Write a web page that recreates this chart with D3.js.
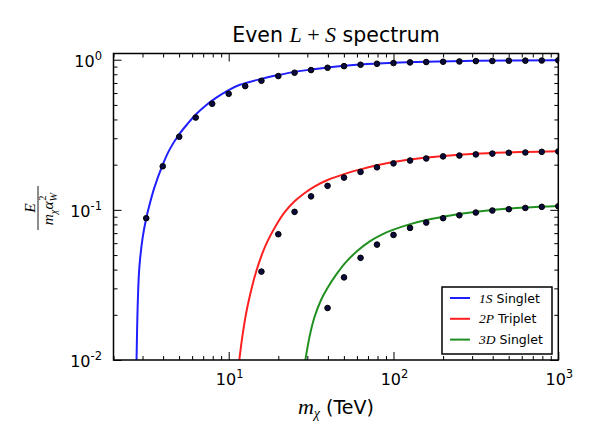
<!DOCTYPE html>
<html><head><meta charset="utf-8">
<script src="https://cdn.jsdelivr.net/npm/d3@7"></script>
<style>body{margin:0;background:#fff}svg{display:block}</style>
</head><body>
<svg id="c" width="600" height="448"></svg>
<script>
// ---- data ----
const blueCurveM = [2.76, 2.81, 2.87, 3.01, 3.16, 3.30, 3.54, 3.98, 4.36, 4.97, 5.64, 6.34, 7.29, 8.37, 10, 11.6, 15.8, 20, 25.1, 31.6, 39.8, 63.1, 100, 158, 316, 1000];
const blueCurveE = [0.01, 0.0248, 0.0414, 0.066, 0.088, 0.107, 0.1406, 0.200, 0.250, 0.315, 0.375, 0.433, 0.497, 0.557, 0.628, 0.678, 0.745, 0.790, 0.830, 0.861, 0.888, 0.930, 0.955, 0.970, 0.985, 0.993];
const redCurveM = [11.6, 12.0, 12.5, 13.0, 14.0, 14.7, 16.0, 17.3, 19.4, 21.8, 25.1, 28.8, 33.1, 39.8, 50.1, 63.1, 79.4, 100, 158, 251, 398, 631, 1000];
const redCurveE = [0.01, 0.0134, 0.018, 0.0227, 0.0322, 0.039, 0.0513, 0.0626, 0.079, 0.0962, 0.114, 0.129, 0.143, 0.158, 0.173, 0.186, 0.198, 0.208, 0.223, 0.233, 0.2395, 0.243, 0.2455];
const greenCurveM = [29.2, 30.9, 33.1, 36.4, 40, 44.9, 51.6, 60.7, 71.4, 86.1, 100, 125, 166, 251, 398, 631, 1000];
const greenCurveE = [0.01, 0.0142, 0.0192, 0.0252, 0.0305, 0.037, 0.045, 0.0536, 0.0615, 0.069, 0.0738, 0.080, 0.0865, 0.094, 0.0998, 0.1035, 0.106];

const blueDotM = [3.16, 3.98, 5.01, 6.31, 7.94, 10, 12.6, 15.8, 20.0, 25.1, 31.6, 39.8, 50.1, 63.1, 79.4, 100, 126, 158, 200, 251, 316, 398, 501, 631, 794, 1000];
const blueDotE = [0.088, 0.195, 0.307, 0.412, 0.509, 0.593, 0.667, 0.724, 0.778, 0.819, 0.853, 0.884, 0.906, 0.926, 0.94, 0.95, 0.96, 0.965, 0.97, 0.974, 0.979, 0.981, 0.985, 0.986, 0.988, 0.99];
const redDotM = [15.8, 20.0, 25.1, 31.6, 39.8, 50.1, 63.1, 79.4, 100, 126, 158, 200, 251, 316, 398, 501, 631, 794, 1000];
const redDotE = [0.0388, 0.0688, 0.097, 0.123, 0.1445, 0.164, 0.179, 0.192, 0.204, 0.213, 0.220, 0.227, 0.230, 0.234, 0.237, 0.240, 0.241, 0.2435, 0.245];
const greenDotM = [39.8, 50.1, 63.1, 79.4, 100, 126, 158, 200, 251, 316, 398, 501, 631, 794, 1000];
const greenDotE = [0.0222, 0.0355, 0.0479, 0.0587, 0.0681, 0.0758, 0.0823, 0.088, 0.092, 0.096, 0.099, 0.101, 0.103, 0.1047, 0.1057];

const xTickValues = [10, 100, 1000];
const xTickExps = ["1", "2", "3"];
const yTickValues = [0.01, 0.1, 1];
const yTickExps = ["-2", "-1", "0"];
const legendStates = ["1S", "2P", "3D"];
const legendTypes = ["Singlet", "Triplet", "Singlet"];
const colors = ["#1f1fff", "#ff2020", "#209020"];

// ---- layout ----
const L = 113.5, R = 558.3, T = 53.5, B = 360;
const svg = d3.select("#c");
const x = d3.scaleLog().domain([2, 1000]).range([L, R]);
const y = d3.scaleLog().domain([0.01, 1.1]).range([B, T]);
const serif = "'Liberation Serif', 'DejaVu Serif', serif";
const sans = "'DejaVu Sans', sans-serif";

svg.append("defs").append("clipPath").attr("id", "clip")
  .append("rect").attr("x", L).attr("y", T).attr("width", R - L).attr("height", B - T);

// ---- ticks ----
const xAll = x.ticks().filter(v => v >= 2 && v <= 1000);
const yAll = y.ticks().filter(v => v >= 0.01 && v <= 1.1);
const isMajor = v => Math.abs(Math.log10(v) - Math.round(Math.log10(v))) < 1e-6;
function axes(axisFn, scale, vals, len, pos) {
  const g = svg.append("g").attr("transform", pos)
    .call(axisFn(scale).tickValues(vals).tickSizeInner(len).tickSizeOuter(0).tickFormat(""));
  g.select(".domain").remove();
  g.selectAll("line").attr("stroke", "#000").attr("stroke-width", 1);
}
const xMaj = xAll.filter(isMajor), xMin = xAll.filter(v => !isMajor(v));
const yMaj = yAll.filter(isMajor), yMin = yAll.filter(v => !isMajor(v));
axes(d3.axisBottom, x, xMaj, -8, `translate(0,${B})`);
axes(d3.axisBottom, x, xMin, -4, `translate(0,${B})`);
axes(d3.axisTop, x, xMaj, -8, `translate(0,${T})`);
axes(d3.axisTop, x, xMin, -4, `translate(0,${T})`);
axes(d3.axisLeft, y, yMaj, -8, `translate(${L},0)`);
axes(d3.axisLeft, y, yMin, -4, `translate(${L},0)`);
axes(d3.axisRight, y, yMaj, -8, `translate(${R},0)`);
axes(d3.axisRight, y, yMin, -4, `translate(${R},0)`);

// ---- curves ----
const series = [
  [blueCurveM, blueCurveE], [redCurveM, redCurveE], [greenCurveM, greenCurveE]
];
const line = d3.line().x(d => x(d[0])).y(d => y(d[1])).curve(d3.curveCatmullRom.alpha(0.5));
const plot = svg.append("g").attr("clip-path", "url(#clip)");
series.forEach((s, i) => {
  const pts = s[0].map((m, k) => [m, s[1][k]]);
  plot.append("path").datum(pts).attr("d", line)
    .attr("fill", "none").attr("stroke", colors[i]).attr("stroke-width", 2);
});

// ---- dots ----
const dots = [[blueDotM, blueDotE], [redDotM, redDotE], [greenDotM, greenDotE]];
dots.forEach(s => {
  const pts = s[0].map((m, k) => [m, s[1][k]]);
  plot.selectAll(null).data(pts).enter().append("circle")
    .attr("cx", d => x(d[0])).attr("cy", d => y(d[1])).attr("r", 2.8)
    .attr("fill", "#0a0a3c").attr("stroke", "#000").attr("stroke-width", 1);
});

// ---- frame ----
svg.append("rect").attr("x", L).attr("y", T).attr("width", R - L).attr("height", B - T)
  .attr("fill", "none").attr("stroke", "#000").attr("stroke-width", 1.5);

// ---- tick labels ----
xTickValues.forEach((v, i) => {
  const t = svg.append("text").attr("x", x(v) + 1).attr("y", 384.5).attr("text-anchor", "middle")
    .attr("font-family", sans).attr("font-size", 16).attr("fill", "#000");
  t.append("tspan").text("10");
  t.append("tspan").attr("dy", -7).attr("font-size", 11.5).text(xTickExps[i]);
});
yTickValues.forEach((v, i) => {
  const t = svg.append("text").attr("x", 102).attr("y", y(v) + 7).attr("text-anchor", "end")
    .attr("font-family", sans).attr("font-size", 16).attr("fill", "#000");
  t.append("tspan").text("10");
  t.append("tspan").attr("dy", -7).attr("font-size", 11.5).text(yTickExps[i]);
});

// ---- title ----
const title = svg.append("text").attr("x", (L + R) / 2).attr("y", 42).attr("text-anchor", "middle")
  .attr("font-family", sans).attr("font-size", 20.5).attr("fill", "#000");
title.append("tspan").text("Even ");
title.append("tspan").attr("font-family", serif).attr("font-style", "italic").attr("font-size", 22).text("L");
title.append("tspan").attr("font-family", serif).attr("font-size", 22).text(" + ");
title.append("tspan").attr("font-family", serif).attr("font-style", "italic").attr("font-size", 22).text("S");
title.append("tspan").text(" spectrum");

// ---- x label ----
const xl = svg.append("text").attr("x", (L + R) / 2).attr("y", 414).attr("text-anchor", "middle")
  .attr("font-family", sans).attr("font-size", 19).attr("fill", "#000");
xl.append("tspan").attr("font-family", serif).attr("font-style", "italic").attr("font-size", 22).text("m");
xl.append("tspan").attr("font-family", serif).attr("font-style", "italic").attr("font-size", 14).attr("dy", 4).text("χ");
xl.append("tspan").attr("dy", -4).text(" (TeV)");

// ---- y label (fraction) ----
const yl = svg.append("g").attr("transform", "translate(38,208) rotate(-90)");
yl.append("line").attr("x1", -22).attr("x2", 22).attr("y1", 0).attr("y2", 0)
  .attr("stroke", "#000").attr("stroke-width", 0.9);
yl.append("text").attr("x", 0).attr("y", -3).attr("text-anchor", "middle")
  .attr("font-family", serif).attr("font-style", "italic").attr("font-size", 15.5).text("E");
const den = yl.append("text").attr("x", -1).attr("y", 15).attr("text-anchor", "middle")
  .attr("font-family", serif).attr("font-style", "italic").attr("font-size", 15.5);
den.append("tspan").text("m");
den.append("tspan").attr("font-size", 10.5).attr("dy", 3.5).text("χ");
den.append("tspan").attr("dy", -3.5).text("α");
den.append("tspan").attr("font-size", 10.5).attr("dy", 3.5).text("W");
den.append("tspan").attr("font-size", 10.5).attr("dx", -8).attr("dy", -11).attr("font-style", "normal").text("2");

// ---- legend ----
const lg = svg.append("g");
lg.append("rect").attr("x", 442).attr("y", 287).attr("width", 110).attr("height", 67)
  .attr("fill", "#fff").attr("stroke", "#000").attr("stroke-width", 1.5);
legendStates.forEach((s, i) => {
  const yy = 298 + i * 20.8;
  lg.append("line").attr("x1", 450).attr("x2", 470).attr("y1", yy).attr("y2", yy)
    .attr("stroke", colors[i]).attr("stroke-width", 2);
  const t = lg.append("text").attr("x", 479).attr("y", yy + 4.5)
    .attr("font-family", sans).attr("font-size", 12.5).attr("fill", "#000");
  t.append("tspan").attr("font-family", serif).attr("font-style", "italic").attr("font-size", 13.5).text(s);
  t.append("tspan").text(" " + legendTypes[i]);
});
</script>
</body></html>
